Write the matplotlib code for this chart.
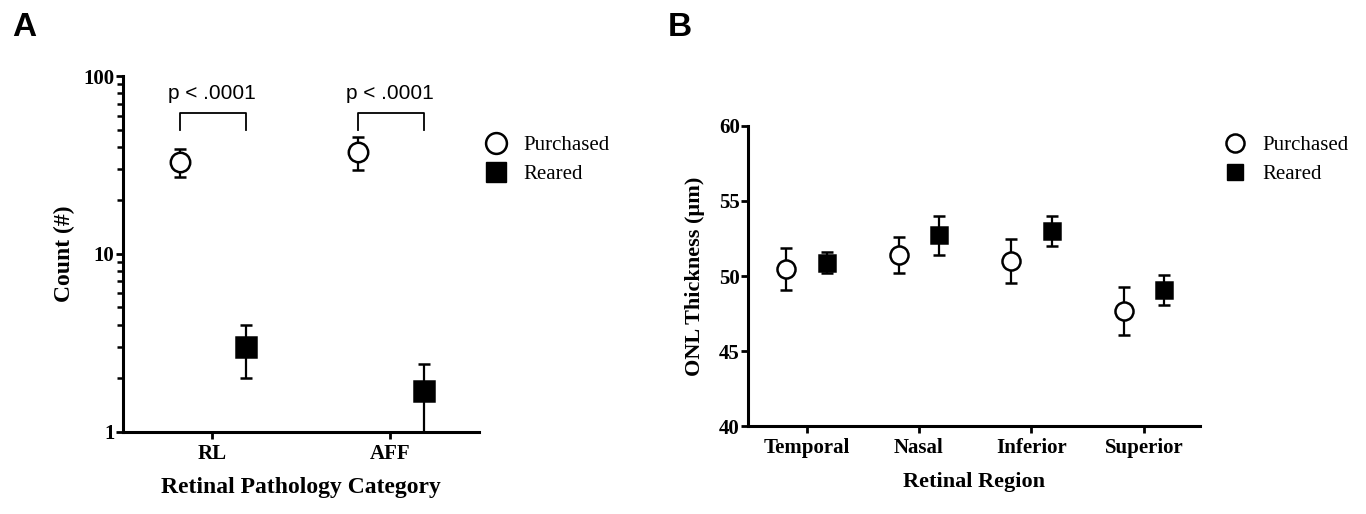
import numpy as np
import matplotlib
matplotlib.use("Agg")
import matplotlib.pyplot as plt
from matplotlib.lines import Line2D
from matplotlib.ticker import LogLocator, FixedLocator, NullFormatter

# panel A data
cat_a = ["RL", "AFF"]
purch_a = [33.0, 37.5]
purch_a_err = [6.0, 8.0]
reared_a = [3.0, 1.7]
reared_a_err = [1.0, 0.7]
p_text = ["p < .0001", "p < .0001"]

# panel B data
cat_b = ["Temporal", "Nasal", "Inferior", "Superior"]
purch_b = [50.5, 51.4, 51.0, 47.7]
purch_b_err = [1.4, 1.2, 1.45, 1.6]
reared_b = [50.9, 52.7, 53.0, 49.1]
reared_b_err = [0.7, 1.3, 1.0, 1.0]

serif = "Liberation Serif"
sans = "Liberation Sans"

fig = plt.figure(figsize=(13.66, 5.14), dpi=100)
axA = fig.add_axes([0.090, 0.160, 0.261, 0.692])
axB = fig.add_axes([0.5476, 0.171, 0.331, 0.584])


def style(ax):
    for s in ["top", "right"]:
        ax.spines[s].set_visible(False)
    for s in ["left", "bottom"]:
        ax.spines[s].set_linewidth(2.2)
    ax.tick_params(axis="both", which="major", width=2.0, length=5, direction="out")
    ax.tick_params(axis="y", which="major", pad=1)
    for lab in ax.get_xticklabels() + ax.get_yticklabels():
        lab.set_fontfamily(serif)
        lab.set_fontweight("bold")


def draw(ax, x, vals, errs, mk, fc, ms):
    ax.errorbar(x, vals, yerr=errs, fmt=mk, ms=ms, mfc=fc, mec="black", mew=1.8,
                ecolor="black", elinewidth=1.6, capsize=4.5, capthick=1.6,
                clip_on=False, zorder=3)


def legend(ax, anchor, ms):
    handles = [Line2D([], [], ls="none", marker="o", ms=ms, mfc="white", mec="black", mew=1.8),
               Line2D([], [], ls="none", marker="s", ms=ms - 1, mfc="black", mec="black")]
    ax.legend(handles, ["Purchased", "Reared"], loc="upper left", bbox_to_anchor=anchor,
              frameon=False, prop={"family": serif, "size": 15}, handletextpad=0.8,
              labelspacing=0.45, handlelength=1.0)


# ---- panel A
xa = np.arange(len(cat_a))
draw(axA, xa - 0.18, purch_a, purch_a_err, "o", "white", 14)
draw(axA, xa + 0.19, reared_a, reared_a_err, "s", "black", 14)
axA.set_yscale("log")
axA.set_ylim(1, 100)
axA.set_xlim(-0.5, 1.5)
axA.set_xticks(xa)
axA.set_xticklabels(cat_a, fontsize=15)
axA.yaxis.set_major_locator(FixedLocator([1, 10, 100]))
axA.set_yticklabels(["1", "10", "100"], fontsize=15)
axA.yaxis.set_minor_locator(LogLocator(base=10, subs=np.arange(2, 10)))
axA.yaxis.set_minor_formatter(NullFormatter())
axA.tick_params(axis="y", which="minor", width=1.8, length=4)
axA.set_ylabel("Count (#)", fontsize=17, fontfamily=serif, fontweight="bold", labelpad=6)
axA.set_xlabel("Retinal Pathology Category", fontsize=17, fontfamily=serif,
               fontweight="bold", labelpad=10)
style(axA)
for i in range(len(cat_a)):
    axA.plot([xa[i] - 0.18, xa[i] - 0.18, xa[i] + 0.19, xa[i] + 0.19],
             [50, 62, 62, 50], color="black", lw=1.3)
    axA.text(xa[i], 80, p_text[i], ha="center", va="center", fontsize=15,
             fontfamily=sans)
legend(axA, (0.965, 0.885), 15)

# ---- panel B
xb = np.arange(len(cat_b))
draw(axB, xb - 0.18, purch_b, purch_b_err, "o", "white", 13)
draw(axB, xb + 0.18, reared_b, reared_b_err, "s", "black", 12)
axB.set_ylim(40, 60)
axB.set_xlim(-0.52, 3.5)
axB.set_xticks(xb)
axB.set_xticklabels(cat_b, fontsize=15)
axB.set_yticks([40, 45, 50, 55, 60])
axB.set_yticklabels(["40", "45", "50", "55", "60"], fontsize=15)
axB.set_ylabel("ONL Thickness (\u00b5m)", fontsize=16, fontfamily=serif,
               fontweight="bold", labelpad=10)
axB.set_xlabel("Retinal Region", fontsize=16, fontfamily=serif, fontweight="bold",
               labelpad=10)
style(axB)
legend(axB, (1.013, 1.03), 13)

fig.text(0.009, 0.93, "A", fontsize=24, fontweight="bold", fontfamily=sans)
fig.text(0.489, 0.93, "B", fontsize=24, fontweight="bold", fontfamily=sans)

fig.savefig("out.png", dpi=100, facecolor="white")
